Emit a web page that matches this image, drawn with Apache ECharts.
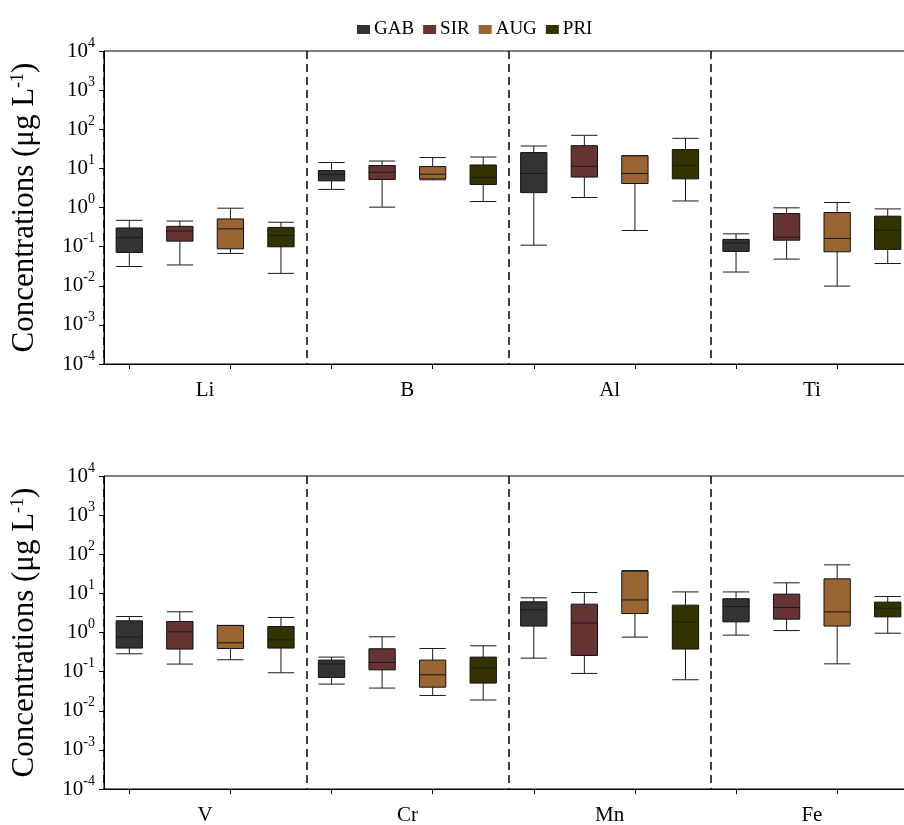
<!DOCTYPE html>
<html>
<head>
<meta charset="utf-8">
<script src="https://cdn.jsdelivr.net/npm/echarts@6/dist/echarts.min.js"></script>
<style>
  html, body { margin: 0; padding: 0; background: #fff; }
  #chart { width: 904px; height: 825px; }
</style>
</head>
<body>
<div id="chart"></div>
<script>
// element groups on each panel
var topElements = ['Li', 'B', 'Al', 'Ti'];
var bottomElements = ['V', 'Cr', 'Mn', 'Fe'];
var sites = ['GAB', 'SIR', 'AUG', 'PRI'];
var siteColors = ['#333333', '#663333', '#996633', '#333300'];

// [min, Q1, median, Q3, max] per element (µg/L)
var gabTop = [[0.031, 0.071, 0.17, 0.30, 0.47], [2.9, 4.8, 7.1, 8.8, 14.1], [0.109, 2.4, 7.4, 25.3, 37.3], [0.0224, 0.0755, 0.125, 0.153, 0.212]];
var sirTop = [[0.034, 0.138, 0.25, 0.33, 0.45], [1.02, 5.2, 7.95, 11.8, 15.4], [1.8, 6.0, 11.3, 38, 70], [0.048, 0.146, 0.175, 0.70, 0.98]];
var augTop = [[0.067, 0.088, 0.285, 0.51, 0.96], [5.1, 5.4, 7.1, 11.1, 18.9], [0.259, 4.1, 7.4, 20.9, 21.2], [0.0098, 0.0737, 0.162, 0.745, 1.34]];
var priTop = [[0.0207, 0.099, 0.193, 0.31, 0.42], [1.42, 3.86, 5.9, 12.2, 19.5], [1.47, 5.4, 11.8, 30.2, 58.6], [0.037, 0.085, 0.264, 0.60, 0.92]];

var gabBottom = [[0.286, 0.40, 0.76, 1.99, 2.56], [0.048, 0.071, 0.156, 0.197, 0.235], [0.221, 1.46, 3.8, 6.1, 7.7], [0.857, 1.87, 4.6, 7.3, 10.9]];
var sirBottom = [[0.156, 0.377, 1.04, 1.91, 3.38], [0.038, 0.111, 0.171, 0.384, 0.776], [0.09, 0.259, 1.74, 5.3, 10.5], [1.12, 2.19, 4.35, 9.55, 18.6]];
var augBottom = [[0.201, 0.39, 0.546, 1.51, 1.52], [0.0246, 0.040, 0.083, 0.197, 0.39], [0.762, 3.05, 6.8, 36.8, 38.3], [0.158, 1.46, 3.37, 23.5, 53.6]];
var priBottom = [[0.0935, 0.40, 0.65, 1.42, 2.42], [0.0188, 0.051, 0.123, 0.235, 0.457], [0.062, 0.377, 1.84, 5.0, 10.9], [0.96, 2.51, 4.19, 5.97, 8.3]];

var yTicks = [-4, -3, -2, -1, 0, 1, 2, 3, 4];

var FONT = 'Liberation Serif';
var panelData = [[gabTop, sirTop, augTop, priTop], [gabBottom, sirBottom, augBottom, priBottom]];

function slots(groups) {
    var out = [];
    groups.forEach(function (g) {
        sites.forEach(function (s) { out.push(g + '-' + s); });
    });
    return out;
}

function renderBox(params, api) {
    var x = api.value(0);
    var lo = api.coord([x, api.value(1)]);
    var q1 = api.coord([x, api.value(2)]);
    var md = api.coord([x, api.value(3)]);
    var q3 = api.coord([x, api.value(4)]);
    var hi = api.coord([x, api.value(5)]);
    var w = api.size([1, 0])[0] * 0.52;
    var cx = lo[0];
    var ln = { stroke: '#1a1a1a', lineWidth: 1 };
    return {
        type: 'group',
        children: [
            { type: 'line', shape: { x1: cx, y1: hi[1], x2: cx, y2: q3[1] }, style: ln },
            { type: 'line', shape: { x1: cx - w / 2, y1: hi[1], x2: cx + w / 2, y2: hi[1] }, style: ln },
            { type: 'line', shape: { x1: cx, y1: q1[1], x2: cx, y2: lo[1] }, style: ln },
            { type: 'line', shape: { x1: cx - w / 2, y1: lo[1], x2: cx + w / 2, y2: lo[1] }, style: ln },
            { type: 'rect', shape: { x: cx - w / 2, y: q3[1], width: w, height: q1[1] - q3[1] },
              style: { fill: api.visual('color'), stroke: '#111', lineWidth: 1 } },
            { type: 'line', shape: { x1: cx - w / 2, y1: md[1], x2: cx + w / 2, y2: md[1] }, style: ln }
        ]
    };
}

var myChart = echarts.init(document.getElementById('chart'));

// plot area runs past the right edge of the picture
var grids = [
    { left: 104, width: 809, top: 51, height: 313, outerBoundsMode: 'none', show: true, borderColor: '#000', borderWidth: 1 },
    { left: 104, width: 809, top: 476, height: 313, outerBoundsMode: 'none', show: true, borderColor: '#000', borderWidth: 1 }
];

var xAxes = [];
var yAxes = [];
var series = [];
[topElements, bottomElements].forEach(function (groups, p) {
    // labelled axis with dashed dividers
    xAxes.push({
        type: 'category', gridIndex: p, position: 'bottom', data: groups, boundaryGap: true,
        axisLine: { lineStyle: { color: '#000', width: 1 } },
        axisTick: { show: false },
        axisLabel: { fontFamily: FONT, fontSize: 21, color: '#000', margin: 16 },
        splitLine: { show: true, lineStyle: { color: '#000', width: 1.5, type: [8, 5] } }
    });
    // one slot per box, carries the ticks
    xAxes.push({
        type: 'category', gridIndex: p, position: 'bottom', data: slots(groups), boundaryGap: true,
        axisLine: { show: false },
        axisTick: { show: true, alignWithLabel: true, length: 5, lineStyle: { color: '#000' } },
        axisLabel: { show: false },
        splitLine: { show: false }
    });
    yAxes.push({
        type: 'log', gridIndex: p, logBase: 10, min: 1e-4, max: 1e4, interval: 1,
        name: 'Concentrations (μg L{s|-1})',
        nameLocation: 'middle', nameGap: 64, nameRotate: 90,
        nameTextStyle: {
            fontFamily: FONT, fontSize: 31, color: '#000',
            rich: { s: { fontFamily: FONT, fontSize: 18, color: '#000', verticalAlign: 'top', padding: [0, 0, 12, 0] } }
        },
        axisLine: { show: true, lineStyle: { color: '#000', width: 1 } },
        axisTick: { show: true, length: 5, lineStyle: { color: '#000' } },
        splitLine: { show: false },
        axisLabel: {
            margin: 9, fontFamily: FONT, fontSize: 21, color: '#000',
            formatter: function (v) {
                var e = Math.round(Math.log10(v));
                if (yTicks.indexOf(e) < 0) return '';
                return '10{s|' + e + '}';
            },
            rich: { s: { fontFamily: FONT, fontSize: 14, color: '#000', verticalAlign: 'top', padding: [0, 0, 16, 0] } }
        }
    });
    sites.forEach(function (site, s) {
        var data = panelData[p][s].map(function (d, g) {
            return [g * 4 + s].concat(d);
        });
        series.push({
            name: site,
            type: 'custom',
            xAxisIndex: p * 2 + 1,
            yAxisIndex: p,
            itemStyle: { color: siteColors[s] },
            encode: { x: 0, y: [1, 2, 3, 4, 5] },
            renderItem: renderBox,
            data: data
        });
    });
});

myChart.setOption({
    animation: false,
    legend: {
        data: sites,
        left: 352, top: 15,
        icon: 'rect', itemWidth: 13, itemHeight: 9, itemGap: 9,
        textStyle: { fontFamily: FONT, fontSize: 19, color: '#000', padding: [0, 0, 0, -1] }
    },
    grid: grids,
    xAxis: xAxes,
    yAxis: yAxes,
    series: series
});
</script>
</body>
</html>
